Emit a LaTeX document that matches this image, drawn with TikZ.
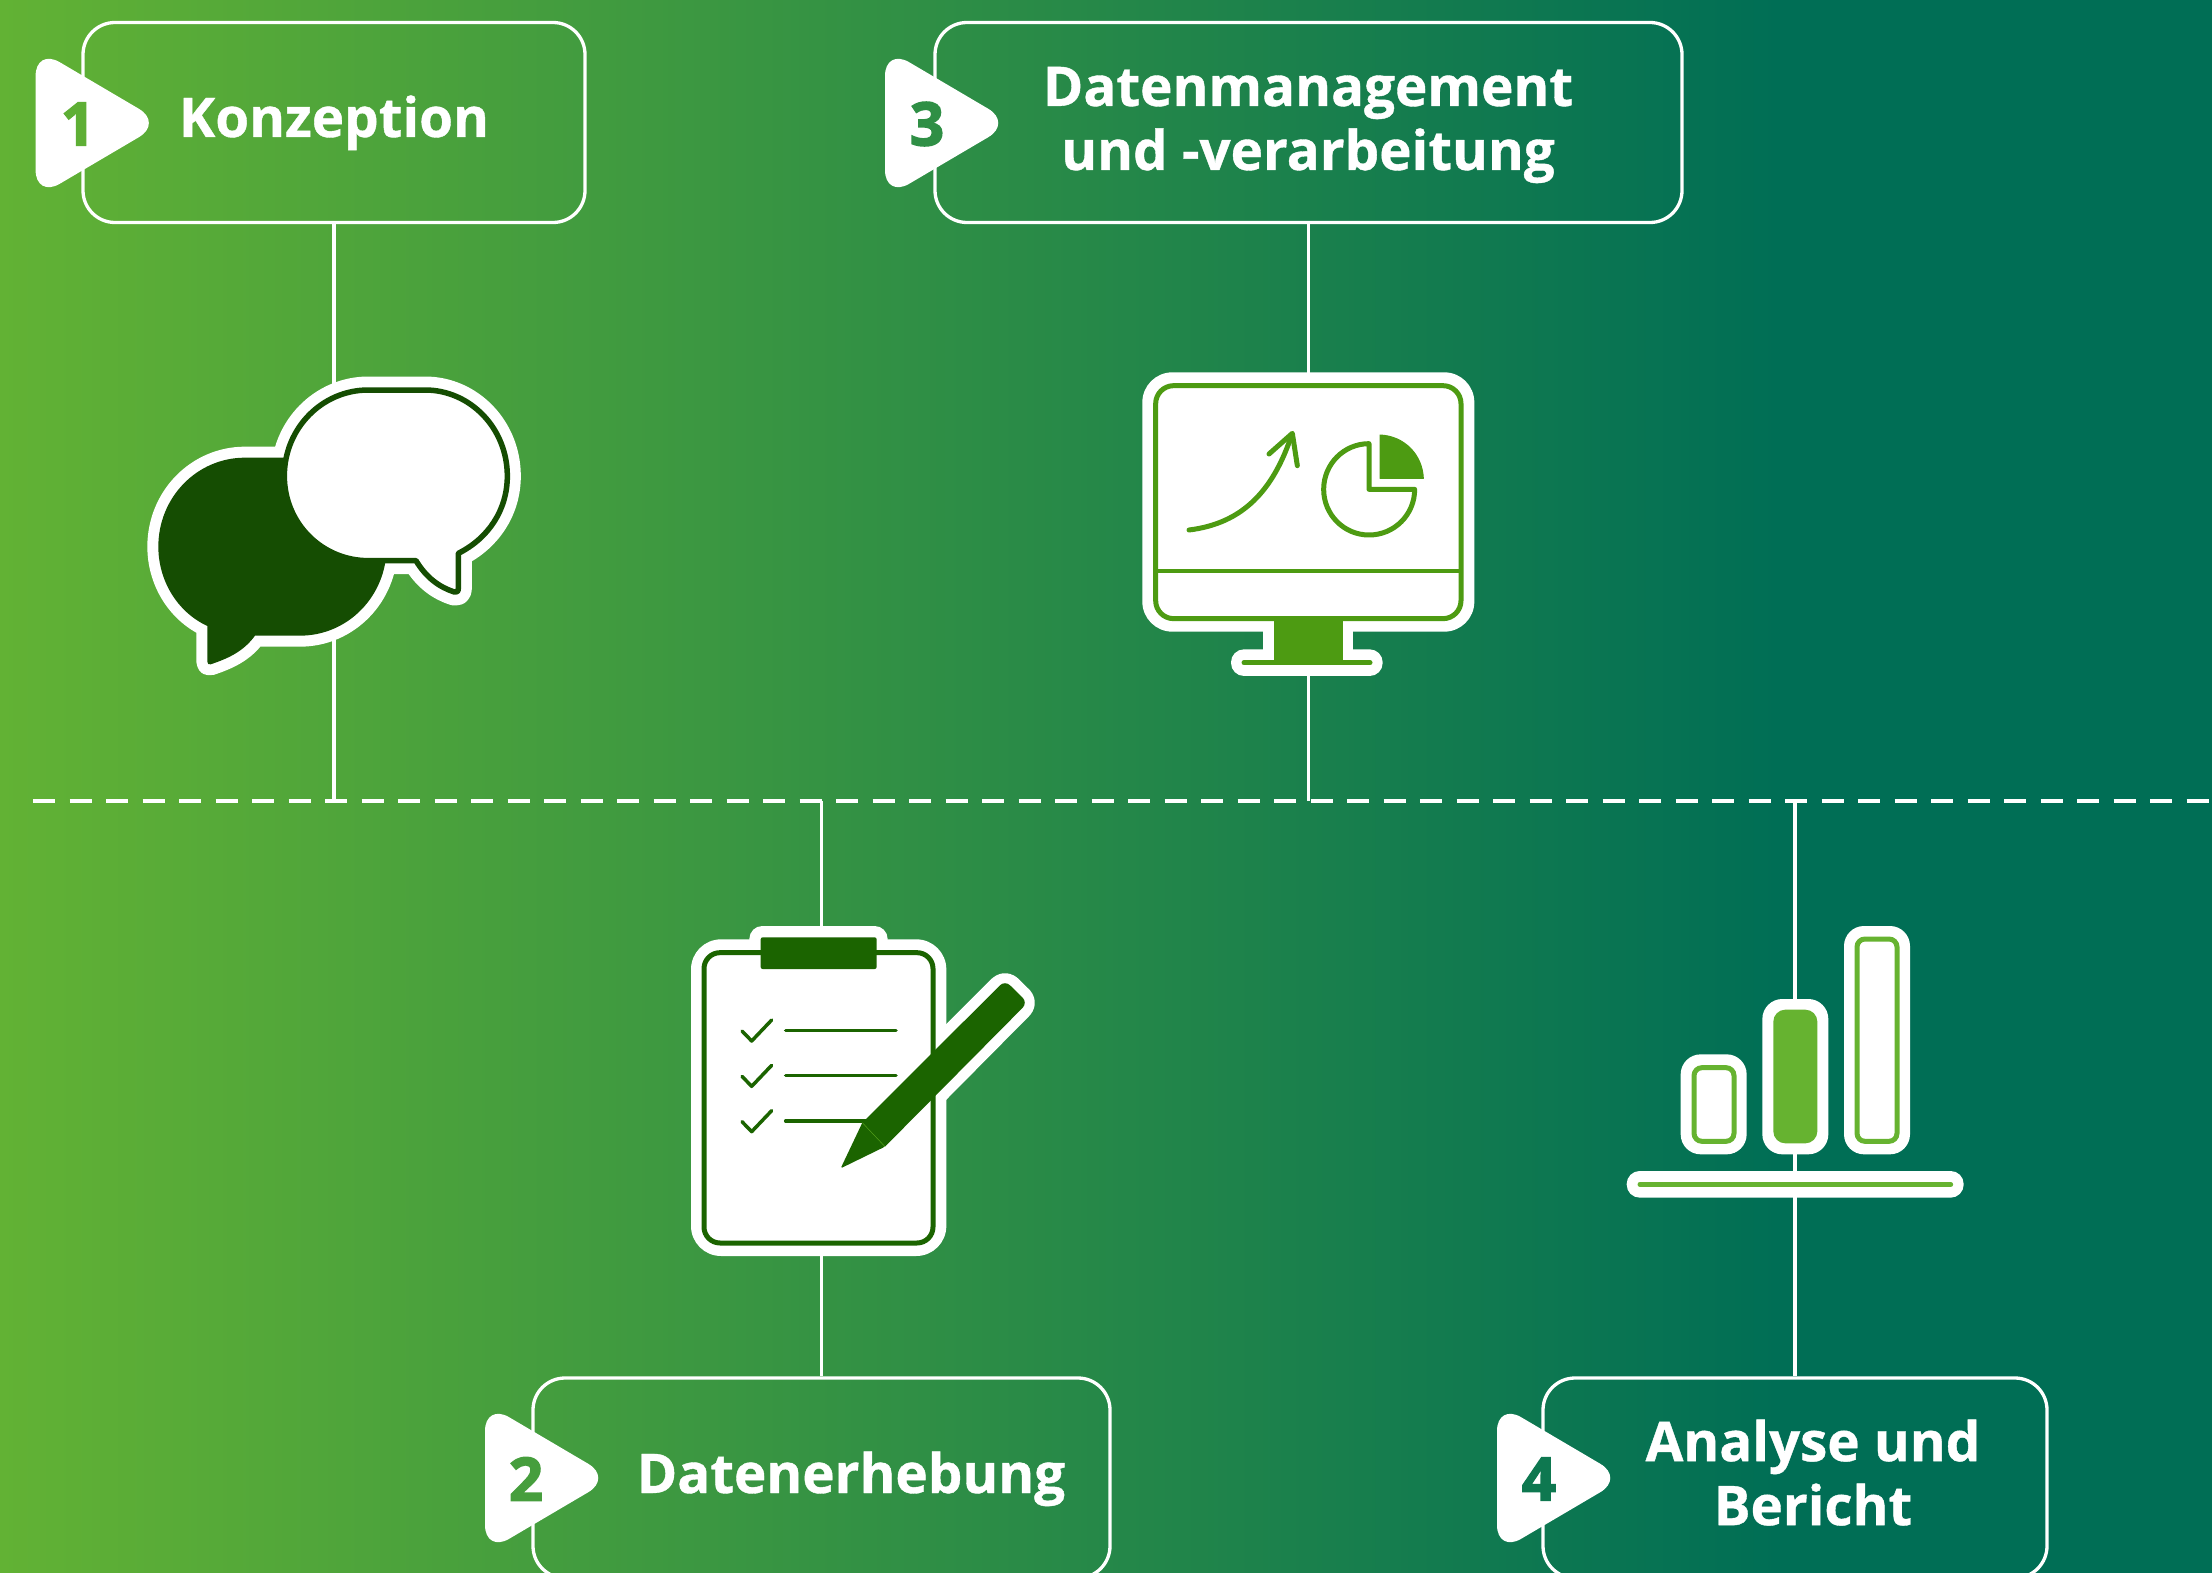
\documentclass[tikz,border=0pt]{standalone}
\usepackage{fontspec}
\setmainfont{Open Sans}[BoldFeatures={FakeBold=0.7}]
\newfontfamily\digitfont{Open Sans}[BoldFeatures={FakeBold=2.5}]
\definecolor{gl}{RGB}{98,178,52}
\definecolor{gr}{RGB}{0,110,85}
\definecolor{chatdark}{RGB}{21,77,2}
\definecolor{clipdark}{RGB}{27,100,0}
\definecolor{mongreen}{RGB}{77,155,18}
\definecolor{bargreen}{RGB}{102,179,48}
\colorlet{d1}{gr!4!gl}
\colorlet{d2}{gr!29!gl}
\colorlet{d3}{gr!52!gl}
\colorlet{d4}{gr!86!gl}
\tikzset{
  titlebox/.style={draw=white,line width=3.3pt,rounded corners=32pt,inner sep=0pt},
  conn/.style={draw=white,line width=3.3pt},
  tri/.style={fill=white,rounded corners=28pt},
  title/.style={text=white,font=\bfseries\fontsize{54.7}{64}\selectfont,align=center,inner sep=0pt},
  digit/.style={font=\digitfont\bfseries\fontsize{60}{60}\selectfont,inner sep=0pt},
}
\begin{document}
\begin{tikzpicture}[x=1pt,y=-1pt]
\useasboundingbox (0,0) rectangle (2212,1573);
\clip (0,0) rectangle (2212,1573);
\fill[gr] (1770,0) rectangle (2212,1573);
\shade[left color=gl,right color=gr,shading angle=90] (0,0) rectangle (1780,1573);

% title boxes
\node[titlebox,minimum width=502pt,minimum height=200pt] (b1) at (334,122.5) {};
\node[titlebox,minimum width=747pt,minimum height=200pt] (b3) at (1308.5,122.5) {};
\node[titlebox,minimum width=577pt,minimum height=200pt] (b2) at (821.5,1478) {};
\node[titlebox,minimum width=504pt,minimum height=200pt] (b4) at (1795,1478) {};

% dashed line and connectors
\coordinate (dl) at (33,801);
\coordinate (dr) at (2212,801);
\coordinate (d1) at (334,801);
\coordinate (d2) at (821.5,801);
\coordinate (d3) at (1308.5,801);
\coordinate (d4) at (1795,801);
\draw[white,line width=3.3pt,dash pattern=on 22pt off 14.5pt] (dl) -- (dr);
\draw[conn] (b1.south) -- (d1);
\draw[conn] (b3.south) -- (d3);
\draw[conn] (d2) -- (b2.north);
\draw[conn] (d4) -- (b4.north);

% triangles
\fill[tri] (35.6,48) -- (163,123) -- (35.6,198) -- cycle;
\fill[tri] (885,48) -- (1012.4,123) -- (885,198) -- cycle;
\fill[tri] (485,1403) -- (612.4,1478) -- (485,1553) -- cycle;
\fill[tri] (1497,1403) -- (1624.4,1478) -- (1497,1553) -- cycle;
\node[digit,text=d1] (n1) at (78,124) {1};
\node[digit,text=d3] (n3) at (927,124) {3};
\node[digit,text=d2] (n2) at (526,1479) {2};
\node[digit,text=d4] (n4) at (1539,1479) {4};

% titles
\node[title,anchor=base] (t1) at (334,137) {Konzeption};
\node[title] (t3) at (1308,125) {Datenmanagement\\und -verarbeitung};
\node[title,anchor=base] (t2) at (851,1493) {Datenerhebung};
\node[title] (t4) at (1813,1472.6) {Analyse und\\Bericht};

% chat icon
\begin{scope}[shift={(120,350)},x=0.33333pt,y=-0.33333pt]
\def\darkb{(375,323) -- (540,323) .. controls (684,323) and (800,442) .. (800,590) .. controls (800,738) and (684,857) .. (540,857) -- (405,857) .. controls (370,905) and (325,925) .. (272,943) .. controls (266,945) and (262,941) .. (262,935) -- (262,828) .. controls (170,785) and (115,690) .. (115,590) .. controls (115,442) and (231,323) .. (375,323) -- cycle}
\def\whiteb{(745,120) -- (915,120) .. controls (1051,120) and (1162,235) .. (1162,378) .. controls (1162,480) and (1105,565) .. (1015,610) -- (1015,715) .. controls (1015,725) and (1010,728) .. (1003,726) .. controls (960,712) and (920,685) .. (888,632) -- (745,632) .. controls (606,632) and (493,520) .. (493,378) .. controls (493,235) and (606,120) .. (745,120) -- cycle}
\draw[white,line width=22pt,line join=round,fill=white] \darkb;
\draw[white,line width=27pt,line join=round,fill=white] \whiteb;
\fill[chatdark] \darkb;
\draw[chatdark,line width=5.5pt,line join=round,fill=white] \whiteb;
\end{scope}

% monitor icon
\begin{scope}[shift={(1120,350)},x=0.33333pt,y=-0.33333pt]
\fill[white] (430,800) rectangle (700,910);
\fill[white,rounded corners=13pt] (333,898) rectangle (788,978);
\fill[white,rounded corners=30pt] (67,67) rectangle (1063,845);
\draw[mongreen,line width=5pt,rounded corners=18pt] (107,107) rectangle (1023,806);
\draw[mongreen,line width=3.8pt] (107,663) -- (1023,663);
\fill[mongreen] (462,806) rectangle (668,938);
\draw[mongreen,line width=5pt,line cap=round] (372,938) -- (750,938);
\draw[mongreen,line width=5pt,line cap=round] (207,540) .. controls (370,520) and (460,420) .. (515,255);
\draw[mongreen,line width=5pt,line cap=round,line join=round] (447,312) -- (517,250) -- (532,347);
\draw[mongreen,line width=5pt,line join=round] (747,281) .. controls (672,281) and (611,342) .. (611,418) .. controls (611,494) and (672,555) .. (747,555) .. controls (823,555) and (884,494) .. (884,418) -- (747,418) -- cycle;
\fill[mongreen,draw=mongreen,line width=1pt,line join=round] (780,255) .. controls (852,258) and (907,313) .. (910,385) -- (780,385) -- cycle;
\end{scope}

% clipboard icon
\begin{scope}[shift={(670,900)},x=0.33333pt,y=-0.33333pt]
% pen halo, under the board
\draw[white,line width=21pt,line join=round,fill=white] (645,740) -- (577,668) [rounded corners=8pt] -- (1005,241) -- (1073,308) [sharp corners] -- cycle;
\fill[white,rounded corners=13pt] (238,78) rectangle (653,160);
\fill[white,rounded corners=30pt] (63,118) rectangle (829,1068);
\draw[clipdark,line width=5pt,rounded corners=16pt] (102,158) rectangle (789,1029);
\fill[clipdark,rounded corners=2pt] (272,112) rectangle (620,207);
\foreach \dy in {0,136,272}{
  \draw[clipdark,line width=3.5pt,line cap=round,line join=round] (216,{393+\dy}) -- (245,{423+\dy}) -- (305,{360+\dy});
}
\draw[clipdark,line width=3.5pt,line cap=round] (347,391) -- (678,391);
\draw[clipdark,line width=3.5pt,line cap=round] (347,527) -- (678,527);
\draw[clipdark,line width=3.5pt,line cap=round] (347,663) -- (590,663);
% pen
\fill[clipdark] (645,740) -- (577,668) [rounded corners=7pt] -- (1005,241) -- (1073,308) [sharp corners] -- cycle;
\fill[clipdark,rounded corners=1.5pt] (577,668) -- (645,740) -- (512,805) [sharp corners] -- cycle;
\draw[mongreen,line width=0.5pt] (577,668) -- (645,740);
\end{scope}

% bars icon
\begin{scope}[shift={(1600,900)},x=0.33333pt,y=-0.33333pt]
\fill[white,rounded corners=20pt] (242,463) rectangle (440,763);
\draw[bargreen,line width=5pt,rounded corners=8pt] (282,503) rectangle (402,724);
\fill[white,rounded corners=20pt] (487,297) rectangle (685,763);
\fill[bargreen,rounded corners=12pt] (520,329) rectangle (652,730);
\fill[white,rounded corners=20pt] (732,78) rectangle (930,763);
\draw[bargreen,line width=5pt,rounded corners=8pt] (771,117) rectangle (891,724);
\fill[white,rounded corners=13pt] (80,813) rectangle (1091,893);
\draw[bargreen,line width=5pt,line cap=round] (120,853) -- (1052,853);
\end{scope}
\end{tikzpicture}
\end{document}
